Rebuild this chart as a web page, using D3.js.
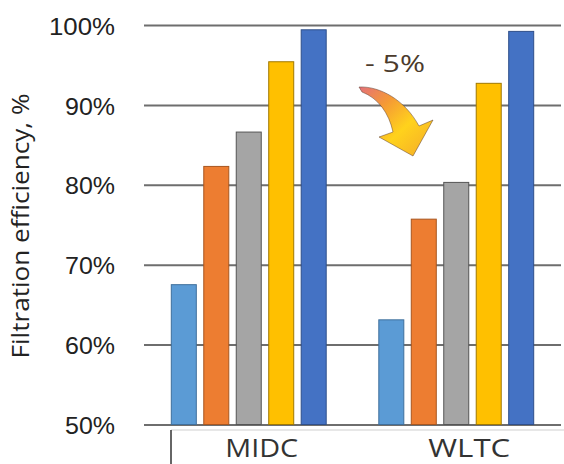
<!DOCTYPE html>
<html>
<head>
<meta charset="utf-8">
<script src="https://cdn.jsdelivr.net/npm/d3@7"></script>
<style>
  body { margin: 0; background: #fff; }
  svg { display: block; font-family: "Open Sans", sans-serif; }
</style>
</head>
<body>
<div id="chart"></div>
<script>
const categories = ["MIDC", "WLTC"];
const series = ["s1", "s2", "s3", "s4", "s5"];
const values = {
  MIDC: [67.5, 82.3, 86.6, 95.4, 99.4],
  WLTC: [63.1, 75.7, 80.3, 92.7, 99.2],
};
const yTicks = [50, 60, 70, 80, 90, 100];
const colors = ["#5b9bd5", "#ed7d31", "#a5a5a5", "#ffc000", "#4472c4"];
const edges = ["#3f6f9c", "#a8561f", "#555555", "#a07800", "#2f4f8a"];

const width = 564;
const height = 464;

const svg = d3
  .select("#chart")
  .append("svg")
  .attr("width", width)
  .attr("height", height);

const y = d3.scaleLinear().domain([50, 100]).range([424.5, 25]);

const x0 = d3.scaleBand().domain(categories).range([145, 560]).padding(0);
const x1 = d3
  .scaleBand()
  .domain(series)
  .range([0, x0.bandwidth()])
  .paddingInner(0.23)
  .paddingOuter(0.81);

// gridlines + tick labels
const yAxis = svg
  .append("g")
  .attr("transform", "translate(144,0)")
  .call(
    d3
      .axisLeft(y)
      .tickValues(yTicks)
      .tickSize(-417)
      .tickPadding(29)
      .tickFormat((d) => d + "%")
  );
yAxis.select(".domain").remove();
yAxis.selectAll("line").attr("stroke", "#6e6e6e").attr("stroke-width", 2);
yAxis
  .selectAll("text")
  .attr("fill", "#222")
  .attr("font-size", 24)
  .attr("textLength", (d) => (d === 100 ? 66 : 50))
  .attr("lengthAdjust", "spacingAndGlyphs")
  .attr("dy", "0.38em");

// bars
const groups = svg
  .selectAll(".grp")
  .data(categories)
  .enter()
  .append("g")
  .attr("class", "grp")
  .attr("transform", (c) => `translate(${x0(c)},0)`);

groups
  .selectAll("rect")
  .data((c) => values[c].map((v, i) => ({ key: series[i], v, i })))
  .enter()
  .append("rect")
  .attr("x", (d) => x1(d.key))
  .attr("y", (d) => y(d.v))
  .attr("width", x1.bandwidth())
  .attr("height", (d) => y(50) - y(d.v))
  .attr("fill", (d) => colors[d.i])
  .attr("stroke", (d) => edges[d.i])
  .attr("stroke-width", 1);

// category axis box
svg
  .append("line")
  .attr("x1", 171)
  .attr("x2", 564)
  .attr("y1", 430)
  .attr("y2", 430)
  .attr("stroke", "#cfcfcf")
  .attr("stroke-width", 1);
svg
  .append("line")
  .attr("x1", 171)
  .attr("x2", 171)
  .attr("y1", 430)
  .attr("y2", 464)
  .attr("stroke", "#333")
  .attr("stroke-width", 1.5);

svg
  .selectAll(".cat")
  .data(categories)
  .enter()
  .append("text")
  .attr("class", "cat")
  .attr("x", (c) => x0(c) + x0.bandwidth() / 2 + 13)
  .attr("y", 457)
  .attr("text-anchor", "middle")
  .attr("font-size", 25)
  .attr("textLength", (c) => (c === "MIDC" ? 73 : 82))
  .attr("lengthAdjust", "spacingAndGlyphs")
  .attr("fill", "#333")
  .text((c) => c);

// y title
svg
  .append("text")
  .attr("transform", "translate(29,226) rotate(-90)")
  .attr("text-anchor", "middle")
  .attr("font-size", 23)
  .attr("textLength", 265)
  .attr("lengthAdjust", "spacingAndGlyphs")
  .attr("fill", "#222")
  .text("Filtration efficiency, %");

// annotation arrow
const defs = svg.append("defs");
const grad = defs
  .append("linearGradient")
  .attr("id", "arrowGrad")
  .attr("x1", "0%")
  .attr("y1", "0%")
  .attr("x2", "100%")
  .attr("y2", "100%");
grad.append("stop").attr("offset", "0%").attr("stop-color", "#e4707a");
grad.append("stop").attr("offset", "30%").attr("stop-color", "#f59a35");
grad.append("stop").attr("offset", "60%").attr("stop-color", "#ffd21c");
grad.append("stop").attr("offset", "100%").attr("stop-color", "#f4a92a");

svg
  .append("path")
  .attr(
    "d",
    "M359,87 C380,86 405,100 419,126 L433,120 L413,156 L379,137 L393,132 C389,113 378,98 362,92 Z"
  )
  .attr("fill", "url(#arrowGrad)")
  .attr("stroke", "#5a3a2a")
  .attr("stroke-width", 0.7)
  .attr("stroke-opacity", 0.7);

svg
  .append("text")
  .attr("x", 365)
  .attr("y", 72)
  .attr("font-size", 24)
  .attr("textLength", 60)
  .attr("lengthAdjust", "spacingAndGlyphs")
  .attr("fill", "#4b3b2c")
  .text("- 5%");
</script>
</body>
</html>
